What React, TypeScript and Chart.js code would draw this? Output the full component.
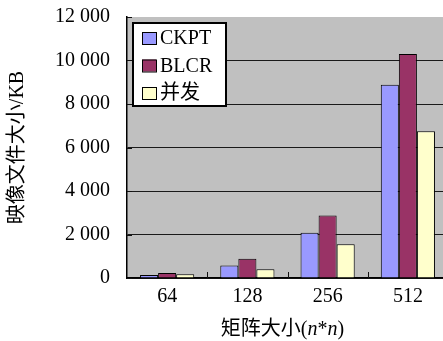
import { useEffect, useRef } from "react";
import { Chart, registerables } from "chart.js";

Chart.register(...registerables);

// Matrix sizes (n*n) and image file sizes in KB
const categories = ["64", "128", "256", "512"];
const ckptValues = [140, 570, 2080, 8880];
const blcrValues = [230, 880, 2870, 10300];
const concurrentValues = [170, 400, 1550, 6750];
const seriesNames = ["CKPT", "BLCR", "并发"];
const seriesColors = ["#9999ff", "#993366", "#ffffcc"];
const yMax = 12000;
const yStep = 2000;
const yTitle = "映像文件大小/KB";

const FONT = '"Liberation Serif", "Noto Sans CJK SC", serif';

const formatThousands = (v: number) =>
  String(v).replace(/\B(?=(\d{3})+(?!\d))/g, " ");

// grey plot background
const plotBackground = {
  id: "plotBackground",
  beforeDraw(chart: any) {
    const { ctx, chartArea: a } = chart;
    ctx.save();
    ctx.fillStyle = "#c0c0c0";
    ctx.fillRect(a.left, a.top, a.right - a.left, a.bottom - a.top);
    ctx.restore();
  },
};

// short tick marks pointing into the plot
const insideTicks = {
  id: "insideTicks",
  afterDatasetsDraw(chart: any) {
    const { ctx, chartArea: a, scales } = chart;
    const y = scales.y;
    const x = scales.x;
    ctx.save();
    ctx.strokeStyle = "#111";
    ctx.lineWidth = 1;
    ctx.beginPath();
    for (let v = 0; v <= yMax; v += yStep) {
      const py = Math.round(y.getPixelForValue(v)) + 0.5;
      ctx.moveTo(a.left, py);
      ctx.lineTo(a.left + 5, py);
    }
    for (let i = 0; i < categories.length - 1; i++) {
      const px =
        Math.round((x.getPixelForValue(i) + x.getPixelForValue(i + 1)) / 2) + 0.5;
      ctx.moveTo(px, a.bottom);
      ctx.lineTo(px, a.bottom - 6);
    }
    ctx.stroke();
    ctx.restore();
  },
};

// boxed legend inside the plot, top-left
const boxLegend = {
  id: "boxLegend",
  afterDraw(chart: any) {
    const { ctx, chartArea: a } = chart;
    const left = a.left + 6;
    const top = a.top + 6;
    const w = 93;
    const h = 83;
    ctx.save();
    ctx.fillStyle = "#ffffff";
    ctx.fillRect(left, top, w, h);
    ctx.strokeStyle = "#000";
    ctx.lineWidth = 2;
    ctx.strokeRect(left, top, w, h);
    ctx.font = `20px ${FONT}`;
    ctx.textBaseline = "middle";
    ctx.textAlign = "left";
    chart.data.datasets.forEach((ds: any, i: number) => {
      const cy = top + 15 + i * 27.5;
      ctx.fillStyle = ds.backgroundColor;
      ctx.fillRect(left + 9, cy - 6, 14, 12);
      ctx.lineWidth = 1;
      ctx.strokeStyle = "#000";
      ctx.strokeRect(left + 9.5, cy - 5.5, 14, 12);
      ctx.fillStyle = "#000";
      ctx.fillText(ds.label, left + 27, cy + 1);
    });
    ctx.restore();
  },
};

// x-axis title with italic n
const xTitle = {
  id: "xTitle",
  afterDraw(chart: any) {
    const { ctx, chartArea: a } = chart;
    const parts: [string, boolean][] = [
      ["矩阵大小(", false],
      ["n", true],
      ["*", false],
      ["n", true],
      [")", false],
    ];
    ctx.save();
    const fontFor = (it: boolean) => `${it ? "italic " : ""}20px ${FONT}`;
    let total = 0;
    parts.forEach(([t, it]) => {
      ctx.font = fontFor(it);
      total += ctx.measureText(t).width;
    });
    let x = (a.left + a.right) / 2 - 5 - total / 2;
    const y = 330;
    ctx.fillStyle = "#000";
    ctx.textBaseline = "middle";
    ctx.textAlign = "left";
    parts.forEach(([t, it]) => {
      ctx.font = fontFor(it);
      ctx.fillText(t, x, y);
      x += ctx.measureText(t).width;
    });
    ctx.restore();
  },
};

export default function App() {
  const canvasRef = useRef<HTMLCanvasElement | null>(null);

  useEffect(() => {
    const canvas = canvasRef.current;
    if (!canvas) return;
    const values = [ckptValues, blcrValues, concurrentValues];
    const chart = new Chart(canvas, {
      type: "bar",
      data: {
        labels: categories,
        datasets: values.map((d, i) => ({
          label: seriesNames[i],
          data: d,
          backgroundColor: seriesColors[i],
          borderColor: "#000",
          borderWidth: 1,
          categoryPercentage: 0.675,
          barPercentage: 1,
        })),
      },
      options: {
        responsive: false,
        animation: false,
        events: [],
        layout: { padding: { top: 17, left: 0, right: 0, bottom: 0 } },
        plugins: {
          legend: { display: false },
          tooltip: { enabled: false },
        },
        scales: {
          x: {
            grid: { display: false, drawTicks: false },
            border: { display: true, color: "#000", width: 1.5 },
            ticks: {
              color: "#000",
              font: { family: FONT, size: 20 },
              padding: 7,
            },
            afterFit(scale: any) {
              scale.height = 63;
              scale.paddingLeft = 0;
              scale.paddingRight = 0;
            },
          },
          y: {
            min: 0,
            max: yMax,
            grid: {
              drawTicks: false,
              color: (c: any) =>
                c.tick && c.tick.value === yMax ? "rgba(0,0,0,0)" : "#1a1a1a",
              lineWidth: 1,
            },
            border: { display: true, color: "#000", width: 1.5 },
            ticks: {
              stepSize: yStep,
              color: "#000",
              font: { family: FONT, size: 20 },
              padding: 17,
              callback: (v: any) => formatThousands(Number(v)),
            },
            title: {
              display: true,
              text: yTitle,
              color: "#000",
              font: { family: FONT, size: 20, lineHeight: 1.2 },
              padding: { top: 6, bottom: 0 },
            },
            afterFit(scale: any) {
              scale.width = 127;
              scale.paddingTop = 0;
              scale.paddingBottom = 0;
            },
          },
        },
      },
      plugins: [plotBackground, insideTicks, boxLegend, xTitle],
    });
    return () => chart.destroy();
  }, []);

  return (
    <div
      style={{
        position: "fixed",
        left: 0,
        top: 0,
        width: 443,
        height: 341,
        overflow: "hidden",
        background: "#fff",
      }}
    >
      <canvas ref={canvasRef} width={448} height={341} style={{ display: "block" }} />
    </div>
  );
}
